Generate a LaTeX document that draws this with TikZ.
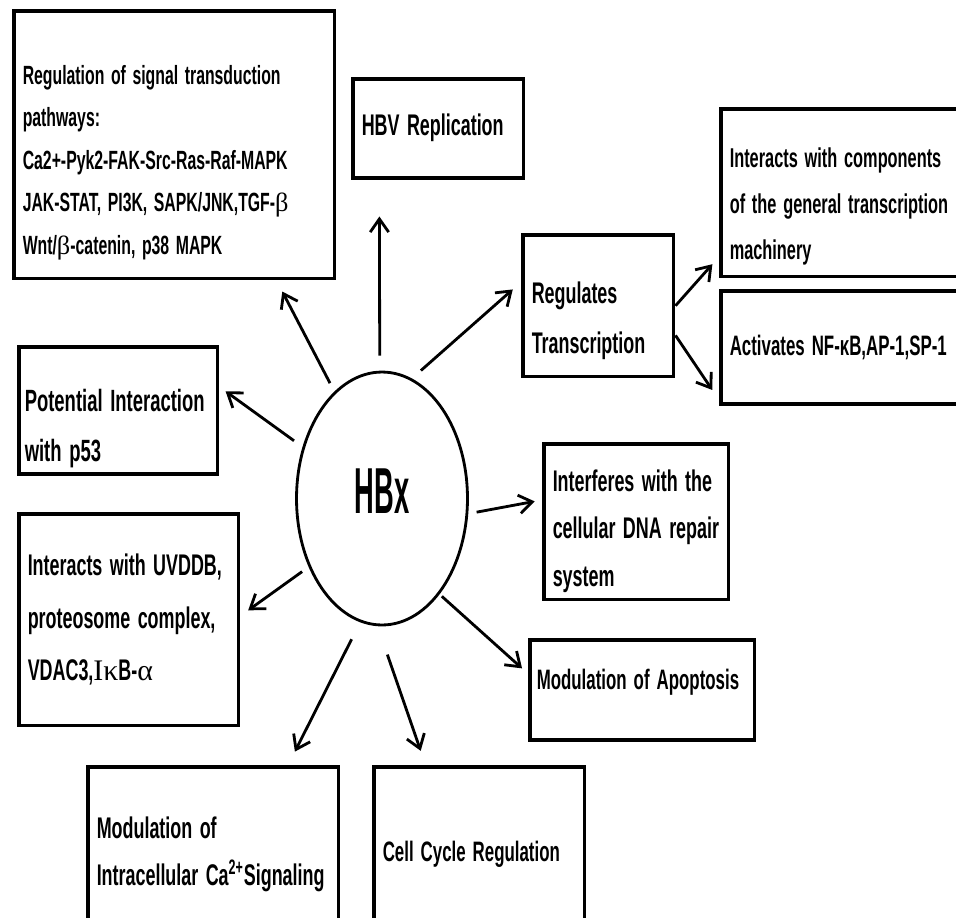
\documentclass[tikz,border=0pt]{standalone}
\usepackage{fontspec}
\setmainfont{Liberation Sans}[FakeStretch=0.6, UprightFont=* Bold]
\newfontfamily\hbxfont{Liberation Sans}[FakeStretch=0.42, UprightFont=* Bold]
\newfontfamily\grk{Liberation Serif}
\usetikzlibrary{arrows.meta,shapes.geometric}
\newcommand{\lift}[1]{\rule{0pt}{#1}}
\newcommand{\sink}[1]{\rule[-#1]{0pt}{#1}}
\hyphenpenalty=10000

\begin{document}
\begin{tikzpicture}[
            x=0.02cm, y=-0.02cm,
            box/.style={
                draw,
                line width=2pt,
                anchor=north west,
                align=flush left,
                inner xsep=0.18cm,
                inner ysep=0pt,
                execute at begin node={\spaceskip=0.25em\relax}
            },
            txt/.style={
                font=\fontsize{16}{#1}\selectfont
            },
            txt/.default=26pt,
            big/.style={
                font=\fontsize{17}{#1}\selectfont
            },
            core/.style={
                draw,
                ellipse,
                line width=1.6pt,
                minimum width=3.42cm,
                minimum height=5.06cm,
                inner sep=0pt
            },
            arr/.style={
                line width=1.6pt,
                -{Straight Barb[length=7.5pt,width=10.5pt]}
            }
        ]

% Page frame (px grid)
            \useasboundingbox (0,0) rectangle (956,917);
            \clip (0,0) rectangle (956,917);

% --- Centre ---
            \node[core, font=\hbxfont\fontsize{37}{40}\selectfont] (hbx) at (382,498.5) {\sink{8pt}HBx};

% --- Boxes ---
            \node[box, font=\fontsize{15}{24.2}\selectfont, minimum width=6.42cm, minimum height=5.36cm, text width=6.06cm] (sig) at (12,9)
                {\lift{31pt}Regulation of signal transduction\\ pathways:\\ Ca2+-Pyk2-FAK-Src-Ras-Raf-MAPK\\ JAK-STAT, PI3K, SAPK/JNK,TGF-{\grk β}\\ Wnt/{\grk β}-catenin, p38 MAPK};
            \node[box, font=\fontsize{17}{20}\selectfont, minimum width=3.42cm, minimum height=1.98cm, text width=3.06cm] (hbv) at (351,77)
                {HBV Replication};
            \node[box, big=28.5pt, minimum width=3.02cm, minimum height=2.84cm, text width=2.66cm] (reg) at (521,233)
                {\lift{29pt}Regulates\\ Transcription};
            \node[box, font=\fontsize{15.5}{26}\selectfont, minimum width=5.42cm, minimum height=3.36cm, text width=5.06cm] (comp) at (719,107)
                {\lift{27pt}Interacts with components\\ of the general transcription\\ machinery};
            \node[box, txt, minimum width=5.42cm, minimum height=2.26cm, text width=5.06cm] (act) at (719,289)
                {Activates NF-κB,AP-1,SP-1};
            \node[box, font=\fontsize{17.5}{28.5}\selectfont, inner xsep=0.12cm, minimum width=3.98cm, minimum height=2.54cm, text width=3.74cm] (p53) at (17,345)
                {\lift{34pt}Potential Interaction\\ with p53};
            \node[box, big=30pt, minimum width=4.4cm, minimum height=4.24cm, text width=4.04cm] (uvd) at (17,512)
                {Interacts with UVDDB,\\ proteosome complex,\\ VDAC3,{\grk Iκ}B-{\grk α}};
            \node[box, big=27pt, minimum width=3.7cm, minimum height=3.12cm, text width=3.34cm] (dna) at (542,442)
                {\lift{23pt}Interferes with the\\ cellular DNA repair\\ system};
            \node[box, txt, inner xsep=0.14cm, minimum width=4.5cm, minimum height=2cm, text width=4.22cm] (apo) at (528,638)
                {Modulation of Apoptosis\sink{12pt}};
            \node[box, big=27pt, minimum width=5.02cm, minimum height=3.5cm, text width=4.66cm] (cal) at (86,765)
                {Modulation of\\ Intracellular Ca\textsuperscript{2+}Signaling};
            \node[box, txt, minimum width=4.22cm, minimum height=3.5cm, text width=3.86cm] (cyc) at (372,765)
                {Cell Cycle Regulation};

% --- Arrows out of HBx: start angle / box / end angle / gaps ---
            \foreach \a/\b/\c/\s/\t in {91/hbv/221/0.3cm/0.74cm,
                                        114/sig/-53/0.19cm/0.25cm,
                                        76/reg/163/0.24cm/0.22cm,
                                        147/p53/13/0.21cm/0.15cm,
                                        -10/dna/167/0.17cm/0.15cm,
                                        223/uvd/2/0.16cm/0.19cm,
                                        -59/apo/172/0.06cm/0.16cm,
                                        260/cal/50/0.38cm/0.3cm,
                                        268/cyc/121/0.6cm/0.3cm} {
                \draw[arr, shorten <=\s, shorten >=\t] (hbx.\a) -- (\b.\c);
            }

% Regulates Transcription splits in two
            \draw[arr, shorten >=0.2cm] (reg.0) -- (comp.205);
            \draw[arr, shorten >=0.24cm] (reg.-21) -- (act.201);

        \end{tikzpicture}
\end{document}
